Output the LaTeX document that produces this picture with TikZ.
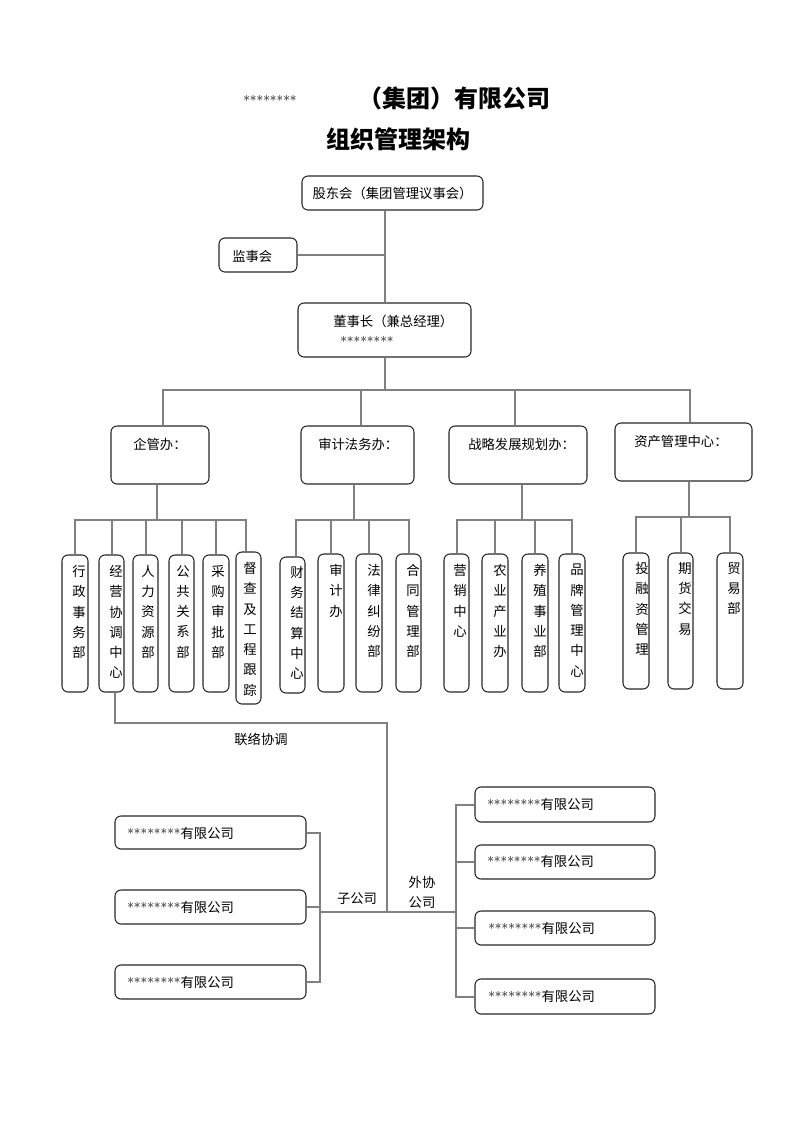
\documentclass[tikz,border=0pt]{standalone}
\usepackage{fontspec}
\newfontfamily\cjk{Noto Sans CJK SC}
\usetikzlibrary{fit}
\begin{document}
\begin{tikzpicture}[x=0.75pt,y=-0.75pt,
  box/.style={draw=black!85, line width=0.8pt, rounded corners=4.5pt, inner sep=0pt},
  conn/.style={draw=black!50, line width=1.5pt},
  txt/.style={font=\cjk\fontsize{10}{12}\selectfont, inner sep=0pt},
  ltxt/.style={txt, anchor=west},
  star/.style={font=\rmfamily\fontsize{10}{12}\selectfont, inner sep=0pt, anchor=west},
  vtxt/.style={font=\cjk\fontsize{10}{15.2}\selectfont, inner sep=0pt, align=center, anchor=north},
  ttl/.style={font=\cjk\bfseries\fontsize{18}{20}\selectfont, inner sep=0pt},
]
\useasboundingbox (0,0) rectangle (793,1122);

% title
\node[star] (tstar) at (243,100) {********};
\node[ttl, anchor=west] (t1) at (358,98) {（集团）有限公司};
\node[ttl] (t2) at (398,139) {组织管理架构};

% top level
\node[box, fit={(302,176) (483,210)}] (gdh) {};
\node[txt] (gdht) at (gdh.center) {股东会（集团管理议事会）};
\node[box, fit={(219,238) (297,272)}] (jsh) {};
\node[ltxt] (jsht) at (232,256) {监事会};
\node[box, fit={(298,303) (471,357)}] (dsz) {};
\node[ltxt] (dszt) at (333,321) {董事长（兼总经理）};
\node[star] (dszs) at (340,341) {********};

% second level
\node[box, fit={(111,426) (209,484)}] (qgb) {};
\node[ltxt] (qgbt) at (133,444) {企管办：};
\node[box, fit={(301,426) (414,484)}] (sjf) {};
\node[ltxt] (sjft) at (318,444) {审计法务办：};
\node[box, fit={(449,426) (587,484)}] (zlb) {};
\node[ltxt] (zlbt) at (468,444) {战略发展规划办：};
\node[box, fit={(615,423) (752,481)}] (zcz) {};
\node[ltxt] (zczt) at (634,441) {资产管理中心：};

% third level
\newcommand\dept[6]{%
  \node[box, fit={(#2) (#3)}] (#1) {};
  \node[vtxt] (#1t) at (#4,#5) {#6};}
\dept{c11}{62,555}{88,692}{79}{565}{行\\政\\事\\务\\部}
\dept{c12}{99,555}{124,692}{116}{565}{经\\营\\协\\调\\中\\心}
\dept{c13}{133,555}{158,692}{148}{565}{人\\力\\资\\源\\部}
\dept{c14}{169,555}{194,692}{183}{565}{公\\共\\关\\系\\部}
\dept{c15}{203,555}{229,692}{218}{565}{采\\购\\审\\批\\部}
\dept{c16}{236,552}{261,704}{250}{562}{督\\查\\及\\工\\程\\跟\\踪}
\dept{c21}{280,557}{305,693}{297}{566}{财\\务\\结\\算\\中\\心}
\dept{c22}{318,554}{344,692}{336}{564}{审\\计\\办}
\dept{c23}{356,554}{382,692}{374}{564}{法\\律\\纠\\纷\\部}
\dept{c24}{396,554}{421,692}{413}{564}{合\\同\\管\\理\\部}
\dept{c31}{444,554}{469,692}{460}{564}{营\\销\\中\\心}
\dept{c32}{482,554}{508,692}{500}{564}{农\\业\\产\\业\\办}
\dept{c33}{522,554}{548,692}{540}{564}{养\\殖\\事\\业\\部}
\dept{c34}{559,554}{585,692}{577}{564}{品\\牌\\管\\理\\中\\心}
\dept{c41}{623,553}{649,689}{642}{562}{投\\融\\资\\管\\理}
\dept{c42}{668,553}{693,689}{685}{562}{期\\货\\交\\易}
\dept{c43}{717,553}{743,689}{734}{562}{贸\\易\\部}

% companies
\node[box, fit={(115,816) (306,849)}] (s1) {};
\node[box, fit={(115,890) (306,924)}] (s2) {};
\node[box, fit={(115,965) (306,999)}] (s3) {};
\node[ltxt] (s1t) at (127,833) {{\rmfamily ********}有限公司};
\node[ltxt] (s2t) at (127,907) {{\rmfamily ********}有限公司};
\node[ltxt] (s3t) at (127,982) {{\rmfamily ********}有限公司};
\node[box, fit={(475,787) (655,822)}] (r1) {};
\node[box, fit={(475,845) (655,879)}] (r2) {};
\node[box, fit={(475,911) (655,945)}] (r3) {};
\node[box, fit={(475,979) (655,1014)}] (r4) {};
\node[ltxt] (r1t) at (487,804) {{\rmfamily ********}有限公司};
\node[ltxt] (r2t) at (487,861) {{\rmfamily ********}有限公司};
\node[ltxt] (r3t) at (488,928) {{\rmfamily ********}有限公司};
\node[ltxt] (r4t) at (488,996) {{\rmfamily ********}有限公司};

% labels
\node[txt] (llxt) at (261,739) {联络协调};
\node[txt] (zgs) at (357,899) {子公司};
\node[txt, align=center, font=\cjk\fontsize{10}{15}\selectfont] (wxgs) at (422,892) {外协\\公司};

% connectors top
\coordinate (b0) at (385,390);
\draw[conn] (gdh.south -| dsz.north) -- (dsz.north);
\draw[conn] (jsh.east) -- (jsh.east -| dsz.north);
\draw[conn] (dsz.south) -- (dsz.south |- b0);
\draw[conn] ([xshift=2.5pt]qgb.north) |- (b0) -| ([xshift=5pt]zcz.north);
\draw[conn] ([xshift=2.5pt]sjf.north) -- ([xshift=2.5pt]sjf.north |- b0);
\draw[conn] ([xshift=-2.5pt]zlb.north) -- ([xshift=-2.5pt]zlb.north |- b0);

% third-level buses
\coordinate (b1) at (0,520);
\coordinate (b4) at (0,517);
\draw[conn] ([xshift=-2pt]qgb.south) -- ([xshift=-2pt]qgb.south |- b1);
\draw[conn] (c11.north) |- ([xshift=-2pt]c16.north |- b1) -- ([xshift=-2pt]c16.north);
\foreach \n in {c12,c13,c14,c15} \draw[conn] (\n.north) -- (\n.north |- b1);
\draw[conn] ([xshift=-2.5pt]sjf.south) -- ([xshift=-2.5pt]sjf.south |- b1);
\draw[conn] ([xshift=2.5pt]c21.north) |- (c24.north |- b1) -- (c24.north);
\foreach \n in {c22,c23} \draw[conn] (\n.north) -- (\n.north |- b1);
\draw[conn] ([xshift=3pt]zlb.south) -- ([xshift=3pt]zlb.south |- b1);
\draw[conn] (c31.north) |- (c34.north |- b1) -- (c34.north);
\foreach \n in {c32,c33} \draw[conn] (\n.north) -- (\n.north |- b1);
\draw[conn] ([xshift=4pt]zcz.south) -- ([xshift=4pt]zcz.south |- b4);
\draw[conn] (c41.north) |- (c43.north |- b4) -- (c43.north);
\draw[conn] (c42.north) -- (c42.north |- b4);

% bottom connectors
\coordinate (turn) at (387,723);
\coordinate (hub) at (387,912);
\coordinate (lb) at (320,912);
\coordinate (rb) at (456,912);
\draw[conn] ([xshift=2.5pt]c12.south) |- (turn) -- (hub);
\draw[conn] (lb) -- (rb);
\draw[conn] (s1.east) -- (s1.east -| lb) -- (s3.east -| lb) -- (s3.east);
\draw[conn] (s2.east) -- (s2.east -| lb);
\draw[conn] (r1.west) -- (r1.west -| rb) -- (r4.west -| rb) -- (r4.west);
\draw[conn] (r2.west) -- (r2.west -| rb);
\draw[conn] (r3.west) -- (r3.west -| rb);
\end{tikzpicture}
\end{document}
